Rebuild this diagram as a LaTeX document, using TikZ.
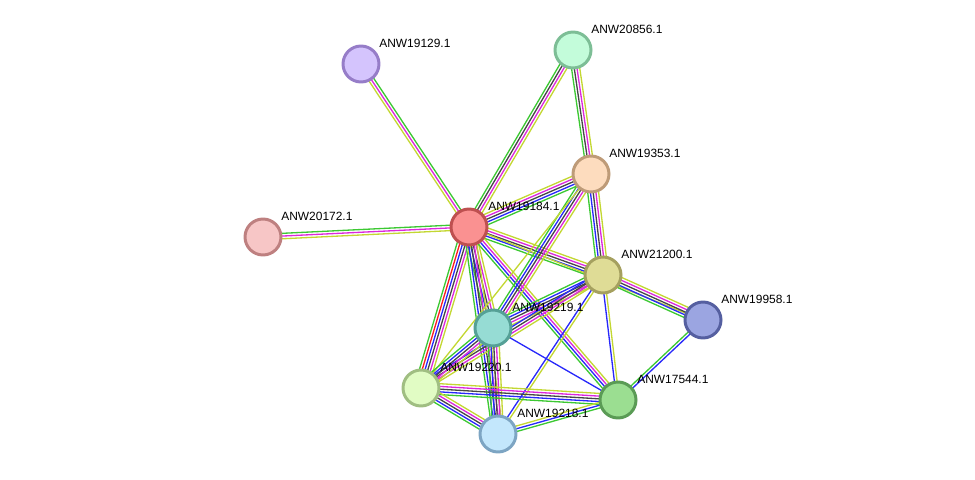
\documentclass[tikz,border=0pt]{standalone}
\usepackage{fontspec}
\setmainfont{Liberation Sans}
\usetikzlibrary{calc,backgrounds}

% evidence channel colours
\definecolor{cogreen}{RGB}{60,200,50}
\definecolor{fured}{RGB}{250,30,30}
\definecolor{coblue}{RGB}{40,40,250}
\definecolor{coexp}{RGB}{70,70,70}
\definecolor{expmag}{RGB}{220,40,220}
\definecolor{txtyel}{RGB}{195,215,50}

% protein fill / rim colours
\definecolor{f19129}{RGB}{212,196,253} \definecolor{d19129}{RGB}{150,125,200}
\definecolor{f20856}{RGB}{195,252,218} \definecolor{d20856}{RGB}{125,190,150}
\definecolor{f19353}{RGB}{253,220,190} \definecolor{d19353}{RGB}{190,155,120}
\definecolor{f20172}{RGB}{247,198,198} \definecolor{d20172}{RGB}{190,128,128}
\definecolor{f19184}{RGB}{250,145,145} \definecolor{d19184}{RGB}{190,80,80}
\definecolor{f21200}{RGB}{223,220,150} \definecolor{d21200}{RGB}{165,160,95}
\definecolor{f19958}{RGB}{155,165,225} \definecolor{d19958}{RGB}{85,95,160}
\definecolor{f19219}{RGB}{150,220,212} \definecolor{d19219}{RGB}{85,160,150}
\definecolor{f19220}{RGB}{225,252,196} \definecolor{d19220}{RGB}{160,190,130}
\definecolor{f17544}{RGB}{155,222,145} \definecolor{d17544}{RGB}{90,155,85}
\definecolor{f19218}{RGB}{195,231,252} \definecolor{d19218}{RGB}{125,165,195}

% one edge = several thin parallel lines, one per colour
\newcommand{\ppilink}[3]{%
  \foreach \c [count=\i] in {#3} {\xdef\nlines{\i}}
  \foreach \c [count=\i] in {#3} {
    \pgfmathsetmacro\off{(\i-(\nlines+1)/2)*1.55}
    \draw[color=\c, line width=0.75pt] ($(#1)!\off pt!90:(#2)$) -- ($(#2)!\off pt!-90:(#1)$);
  }}

\tikzset{
  prot/.style={draw=d#1, fill=f#1, circle, line width=1.7pt,
    minimum size=0.72cm, inner sep=0pt},
  lbl/.style={anchor=west, inner sep=0pt, font=\fontsize{6.8}{8}\selectfont}
}

\begin{document}
\begin{tikzpicture}[x=0.02cm, y=-0.02cm]
  \useasboundingbox (0,0) rectangle (975,480);

  \node[prot=19129] (p19129) at (361,64) {};
  \node[prot=20856] (p20856) at (573,50) {};
  \node[prot=19353] (p19353) at (591,174) {};
  \node[prot=20172] (p20172) at (263,237) {};
  \node[prot=19184] (p19184) at (469,227) {};
  \node[prot=21200] (p21200) at (603,275) {};
  \node[prot=19958] (p19958) at (703,320) {};
  \node[prot=19219] (p19219) at (493,328) {};
  \node[prot=19220] (p19220) at (421,388) {};
  \node[prot=17544] (p17544) at (618,400) {};
  \node[prot=19218] (p19218) at (498,434) {};

  \node[lbl] (t19129) at ($(p19129)+(18,-21)$) {ANW19129.1};
  \node[lbl] (t20856) at ($(p20856)+(18,-21)$) {ANW20856.1};
  \node[lbl] (t19353) at ($(p19353)+(18,-21)$) {ANW19353.1};
  \node[lbl] (t20172) at ($(p20172)+(18,-21)$) {ANW20172.1};
  \node[lbl] (t19184) at ($(p19184)+(19,-21)$) {ANW19184.1};
  \node[lbl] (t21200) at ($(p21200)+(18,-21)$) {ANW21200.1};
  \node[lbl] (t19958) at ($(p19958)+(18,-21)$) {ANW19958.1};
  \node[lbl] (t19219) at ($(p19219)+(19,-21)$) {ANW19219.1};
  \node[lbl] (t19220) at ($(p19220)+(19,-21)$) {ANW19220.1};
  \node[lbl] (t17544) at ($(p17544)+(19,-21)$) {ANW17544.1};
  \node[lbl] (t19218) at ($(p19218)+(19,-21)$) {ANW19218.1};

  \begin{scope}[on background layer]
    \ppilink{p19129}{p19184}{txtyel,expmag,cogreen}
    \ppilink{p20856}{p19184}{cogreen,coexp,expmag,txtyel}
    \ppilink{p20856}{p19353}{cogreen,coexp,expmag,txtyel}
    \ppilink{p20172}{p19184}{txtyel,expmag,cogreen}
    \ppilink{p19184}{p19353}{cogreen,coblue,coexp,expmag,txtyel}
    \ppilink{p19184}{p21200}{cogreen,coblue,coexp,expmag,txtyel}
    \ppilink{p19184}{p19958}{txtyel}
    \ppilink{p19184}{p19219}{cogreen,coblue,coexp,expmag,txtyel}
    \ppilink{p19184}{p19220}{cogreen,fured,coblue,coexp,expmag,txtyel}
    \ppilink{p19184}{p19218}{cogreen,coblue,coexp,expmag,txtyel}
    \ppilink{p19184}{p17544}{cogreen,coblue,expmag,txtyel}
    \ppilink{p19353}{p21200}{cogreen,coblue,coexp,expmag,txtyel}
    \ppilink{p19353}{p19219}{cogreen,coblue,coexp,expmag,txtyel}
    \ppilink{p19353}{p19220}{txtyel}
    \ppilink{p21200}{p19958}{cogreen,coblue,coexp,expmag,txtyel}
    \ppilink{p21200}{p19219}{cogreen,coblue,coexp,expmag,txtyel}
    \ppilink{p21200}{p19220}{coblue,coexp,expmag,txtyel}
    \ppilink{p21200}{p17544}{coblue,txtyel}
    \ppilink{p21200}{p19218}{coblue,txtyel}
    \ppilink{p19958}{p17544}{cogreen,coblue}
    \ppilink{p19219}{p19220}{cogreen,coblue,coexp,expmag,txtyel}
    \ppilink{p19219}{p19218}{cogreen,coblue,coexp,expmag,txtyel}
    \ppilink{p19219}{p17544}{coblue}
    \ppilink{p19220}{p17544}{cogreen,coblue,coexp,expmag,txtyel}
    \ppilink{p19220}{p19218}{cogreen,coblue,coexp,expmag,txtyel}
    \ppilink{p19218}{p17544}{cogreen,coblue,txtyel}
  \end{scope}
\end{tikzpicture}
\end{document}
